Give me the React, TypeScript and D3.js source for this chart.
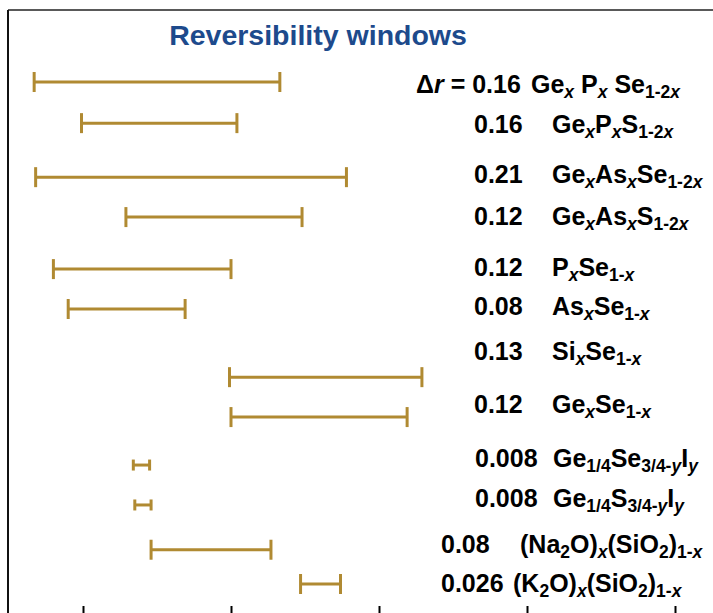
import React from 'react';
import * as d3 from 'd3';

// reversibility windows in mean coordination number r
const systems = [
  'Ge_x P_x Se_{1-2x}',
  'Ge_xP_xS_{1-2x}',
  'Ge_xAs_xSe_{1-2x}',
  'Ge_xAs_xS_{1-2x}',
  'P_xSe_{1-x}',
  'As_xSe_{1-x}',
  'Si_xSe_{1-x}',
  'Ge_xSe_{1-x}',
  'Ge_{1/4}Se_{3/4-y}I_y',
  'Ge_{1/4}S_{3/4-y}I_y',
  '(Na_2O)_x(SiO_2)_{1-x}',
  '(K_2O)_x(SiO_2)_{1-x}',
];
const deltaR = ['0.16', '0.16', '0.21', '0.12', '0.12', '0.08', '0.13', '0.12', '0.008', '0.008', '0.08', '0.026'];
const windowStart = [2.267, 2.299, 2.268, 2.329, 2.28, 2.29, 2.399, 2.4, 2.334, 2.335, 2.346, 2.447];
const windowEnd = [2.433, 2.404, 2.478, 2.448, 2.4, 2.369, 2.529, 2.519, 2.345, 2.346, 2.427, 2.474];
const axisTicks = [2.3, 2.4, 2.5, 2.6, 2.7];

// vertical layout (row units) for bars and labels
const barRow = [0, 1.02, 2.36, 3.35, 4.64, 5.63, 7.32, 8.31, 9.5, 10.49, 11.6, 12.45];
const labelRow = [0.27, 1.27, 2.5, 3.55, 4.81, 5.78, 6.9, 8.21, 9.55, 10.54, 11.68, 12.65];
const valueX = [416, 474, 474, 474, 474, 474, 474, 474, 475, 475, 441, 441];
const formulaX = [531, 552, 552, 552, 552, 552, 552, 552, 553, 553, 520, 513];

const W = 713;
const H = 613;
const GOLD = '#b08a32';
const FONT = '"Liberation Sans", Arial, Helvetica, sans-serif';
const FS = 25;
const SUB_FS = 17.5;

type Seg = { text: string; sub: boolean; italic: boolean };

// turn "Ge_x Se_{1-x}" into tspans-ready pieces; x and y in subscripts are italic
const parseFormula = (s: string): Seg[] => {
  const out: Seg[] = [];
  let i = 0;
  let buf = '';
  const flush = () => {
    if (buf) out.push({ text: buf, sub: false, italic: false });
    buf = '';
  };
  while (i < s.length) {
    if (s[i] === '_') {
      flush();
      let sub = '';
      if (s[i + 1] === '{') {
        const end = s.indexOf('}', i);
        sub = s.slice(i + 2, end);
        i = end + 1;
      } else {
        sub = s[i + 1];
        i += 2;
      }
      // split sub into upright and italic runs
      let run = '';
      let runItalic = false;
      for (const ch of sub) {
        const it = ch === 'x' || ch === 'y';
        if (run && it !== runItalic) {
          out.push({ text: run, sub: true, italic: runItalic });
          run = '';
        }
        runItalic = it;
        run += ch;
      }
      if (run) out.push({ text: run, sub: true, italic: runItalic });
    } else {
      buf += s[i];
      i++;
    }
  }
  flush();
  return out;
};

const Formula = ({ x, y, text }: { x: number; y: number; text: string }) => {
  const segs = parseFormula(text);
  const shift = 5;
  let inSub = false;
  return (
    <text x={x} y={y} fontFamily={FONT} fontWeight="bold" fontSize={FS} fill="#000">
      {segs.map((s, i) => {
        let dy = 0;
        if (s.sub && !inSub) dy = shift;
        if (!s.sub && inSub) dy = -shift;
        inSub = s.sub;
        return (
          <tspan
            key={i}
            dy={dy}
            fontSize={s.sub ? SUB_FS : FS}
            fontStyle={s.italic ? 'italic' : 'normal'}
            style={{ whiteSpace: 'pre' }}
          >
            {s.text}
          </tspan>
        );
      })}
    </text>
  );
};

const App = () => {
  const x = d3.scaleLinear().domain([2.3, 2.7]).range([83, 675]);
  const y = d3.scaleLinear().domain([0, 12.45]).range([82, 584]);

  const axisRef = React.useRef<SVGGElement>(null);
  React.useEffect(() => {
    const g = d3.select(axisRef.current);
    g.selectAll('*').remove();
    g.call(
      d3.axisBottom(x)
        .tickValues(axisTicks)
        .tickSize(-8)
        .tickFormat(() => '')
    );
    g.select('.domain').remove();
    g.selectAll('.tick line').attr('stroke', '#000').attr('stroke-width', 2);
  }, []);

  return (
    <svg width={W} height={H} style={{ position: 'absolute', left: 0, top: 0, background: '#fff' }}>
      {/* frame */}
      <line x1={8} x2={W} y1={10} y2={10} stroke="#222" strokeWidth={1.5} />
      <line x1={8} x2={8} y1={10} y2={H} stroke="#111" strokeWidth={2} />
      <g ref={axisRef} transform={`translate(0,${H + 1})`} />

      <text
        x={318}
        y={45}
        textAnchor="middle"
        fontFamily={FONT}
        fontWeight="bold"
        fontSize={28.5}
        fill="#1d4a8c"
      >
        Reversibility windows
      </text>

      {systems.map((s, i) => {
        const x0 = x(windowStart[i]);
        const x1 = x(windowEnd[i]);
        const cy = y(barRow[i]);
        const cap = x1 - x0 < 25 ? 5.5 : 10;
        return (
          <g key={s} stroke={GOLD} strokeWidth={3}>
            <line x1={x0} x2={x1} y1={cy} y2={cy} />
            <line x1={x0} x2={x0} y1={cy - cap} y2={cy + cap} />
            <line x1={x1} x2={x1} y1={cy - cap} y2={cy + cap} />
          </g>
        );
      })}

      {systems.map((s, i) => {
        const ly = y(labelRow[i]);
        return (
          <g key={'l' + s}>
            <text x={valueX[i]} y={ly} fontFamily={FONT} fontWeight="bold" fontSize={FS} fill="#000">
              {i === 0 ? (
                <>
                  <tspan>Δ</tspan>
                  <tspan fontStyle="italic">r</tspan>
                  <tspan style={{ whiteSpace: 'pre' }}>{' = ' + deltaR[i]}</tspan>
                </>
              ) : (
                deltaR[i]
              )}
            </text>
            <Formula x={formulaX[i]} y={ly} text={s} />
          </g>
        );
      })}
    </svg>
  );
};

export default App;
